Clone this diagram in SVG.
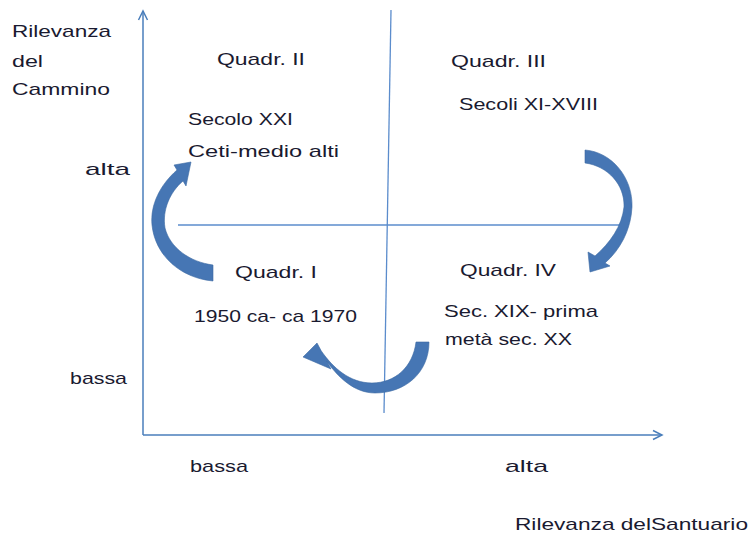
<svg xmlns="http://www.w3.org/2000/svg" width="750" height="534" viewBox="0 0 750 534">
<style>
.t{font-family:"Liberation Sans",Arial,sans-serif;font-size:17px;fill:#1a1a30}
.ax{stroke:#4a7ebb;stroke-width:1.5;fill:none}
.ln{stroke:#5b8ccc;stroke-width:1.3;fill:none}
.arr{fill:#4676b4;stroke:#3d69a3;stroke-width:0.6}
</style>
<rect width="750" height="534" fill="#fff"/>
<g id="connectors">
<line class="ax" x1="143" y1="435" x2="143" y2="11"/>
<polyline class="ax" points="138.5,20 143,11 147.5,20"/>
<line class="ax" x1="143" y1="435" x2="662" y2="435"/>
<polyline class="ax" points="653,430.5 662,435 653,439.5"/>
<line class="ln" x1="178" y1="225" x2="625" y2="225"/>
<line class="ln" x1="391" y1="10" x2="384" y2="413"/>
<path id="arrowLeft" class="arr" d="M177,170 C160,185 150,205 152,225 C155,255 180,278 213,281 L213,265 C190,262 170,248 165,228 C162,210 170,192 183,181 L186,186 L191,162 L174,165 Z"/>
<path id="arrowRight" class="arr" d="M585,150 C612,152 633,178 632,207 C631,230 620,250 605,263 L610,266 L590,272 L588,252 L595,256 C610,243 622,226 624,207 C625,185 608,166 585,163 Z"/>
<path id="arrowBottom" class="arr" d="M416,342 L429,342 C429,373 405,393 375,393 C354,393 338,377 326.8,361.2 L331,369 L303,357 L317,343 L321.2,350.8 C333,368 350,383 372,383 C395,383 413,367 416,342 Z"/>
</g>
<g id="yLabel">
<text class="t" x="12" y="37" textLength="99" lengthAdjust="spacingAndGlyphs">Rilevanza</text>
<text class="t" x="12" y="67" textLength="31" lengthAdjust="spacingAndGlyphs">del</text>
<text class="t" x="12" y="95" textLength="98" lengthAdjust="spacingAndGlyphs">Cammino</text>
</g>
<g id="yTicks">
<text class="t" x="85" y="175" textLength="45" lengthAdjust="spacingAndGlyphs">alta</text>
<text class="t" x="70" y="384" textLength="57" lengthAdjust="spacingAndGlyphs">bassa</text>
</g>
<g id="xTicks">
<text class="t" x="190" y="472" textLength="58" lengthAdjust="spacingAndGlyphs">bassa</text>
<text class="t" x="505" y="472" textLength="43" lengthAdjust="spacingAndGlyphs">alta</text>
</g>
<g id="xLabel">
<text class="t" x="515" y="530" textLength="233" lengthAdjust="spacingAndGlyphs">Rilevanza delSantuario</text>
</g>
<g id="quadII">
<text class="t" x="217" y="65" textLength="88" lengthAdjust="spacingAndGlyphs">Quadr. II</text>
<text class="t" x="188" y="125" textLength="105" lengthAdjust="spacingAndGlyphs">Secolo XXI</text>
<text class="t" x="188" y="157" textLength="151" lengthAdjust="spacingAndGlyphs">Ceti-medio alti</text>
</g>
<g id="quadIII">
<text class="t" x="451" y="67" textLength="95" lengthAdjust="spacingAndGlyphs">Quadr. III</text>
<text class="t" x="459" y="110" textLength="139" lengthAdjust="spacingAndGlyphs">Secoli XI-XVIII</text>
</g>
<g id="quadI">
<text class="t" x="235" y="278" textLength="82" lengthAdjust="spacingAndGlyphs">Quadr. I</text>
<text class="t" x="194" y="322" textLength="163" lengthAdjust="spacingAndGlyphs">1950 ca- ca 1970</text>
</g>
<g id="quadIV">
<text class="t" x="460" y="276" textLength="96" lengthAdjust="spacingAndGlyphs">Quadr. IV</text>
<text class="t" x="444" y="317" textLength="154" lengthAdjust="spacingAndGlyphs">Sec. XIX- prima</text>
<text class="t" x="445" y="345" textLength="127" lengthAdjust="spacingAndGlyphs">metà sec. XX</text>
</g>
</svg>
